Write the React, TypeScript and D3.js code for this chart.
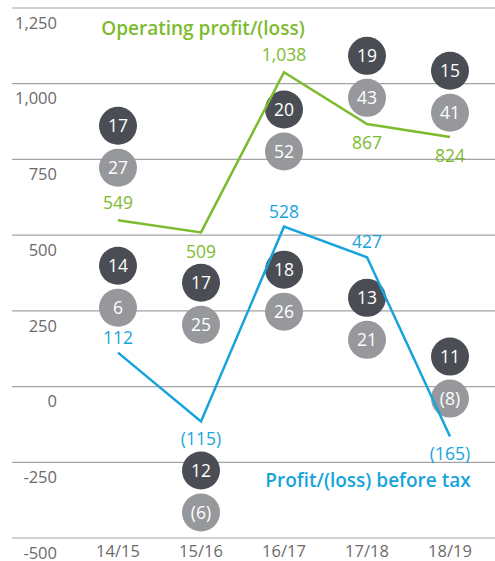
import React from "react";
import * as d3 from "d3";

const categories = ["14/15", "15/16", "16/17", "17/18", "18/19"];
const operatingProfit = [549, 509, 1038, 867, 824];
const profitBeforeTax = [112, -115, 528, 427, -165];
const opLabelAbove = [true, false, true, false, false];
const pbtLabelAbove = [true, false, true, true, false];
// upper bubble pair (dark, light) and lower bubble pair
const upperDark = ["17", "20", "19", "15"];
const upperDarkCat = ["14/15", "16/17", "17/18", "18/19"];
const upperDarkAt = [861, 915, 1092, 1043];
const upperLight = ["27", "52", "43", "41"];
const lowerDarkVals = ["14", "17", "12", "18", "13", "11"];
const lowerDarkCat = ["14/15", "15/16", "15/16", "16/17", "17/18", "18/19"];
const lowerDarkAt = [399, 343, -277, 386, 293, 99];
const lowerLightVals = ["6", "25", "(6)", "26", "21", "(8)"];
const yTicks = [-500, -250, 0, 250, 500, 750, 1000, 1250];

const W = 495;
const H = 561;
const FONT = "'Open Sans', sans-serif";
const GREEN = "#7dbb2e";
const BLUE = "#17a4dc";
const DARK = "#4b4d54";
const LIGHT = "#97989c";
const GRID = "#a3a3a3";
const TEXT = "#6b6b6b";

const num = (v: number) => d3.format(",")(v).replace("\u2212", "-");
const fmt = (v: number) => (v < 0 ? `(${num(-v)})` : num(v));

export default function App() {
  const y = d3.scaleLinear().domain([-500, 1250]).range([538, 8]);
  const x = d3.scalePoint<string>().domain(categories).range([118, 450]);
  const line = d3
    .line<number>()
    .x((_, i) => x(categories[i]) as number)
    .y((d) => y(d));
  const R = 19;
  const gap = 42;

  const bubble = (cx: number, cy: number, fill: string, label: string, key: string) => (
    <g key={key}>
      <circle cx={cx} cy={cy} r={R} fill={fill} />
      <text x={cx} y={cy} dy="0.36em" textAnchor="middle" fill="#fff" fontSize={17.5} fontFamily={FONT}>
        {label}
      </text>
    </g>
  );

  return (
    <svg width={W} height={H} style={{ position: "absolute", left: 0, top: 0 }}>
      <rect width={W} height={H} fill="#fff" />
      {yTicks.map((t) => (
        <g key={t}>
          <line x1={12} x2={W} y1={y(t)} y2={y(t)} stroke={GRID} strokeWidth={1.2} />
          <text x={57} y={y(t) + 15} dy="0.35em" textAnchor="end" fontSize={16.5} fill={TEXT} fontFamily={FONT}>
            {num(t)}
          </text>
        </g>
      ))}
      {categories.map((c) => (
        <text key={c} x={x(c)} y={551} dy="0.35em" textAnchor="middle" fontSize={16.5} fill={TEXT} fontFamily={FONT}>
          {c}
        </text>
      ))}
      {upperDark.map((v, i) => {
        const cx = x(upperDarkCat[i]) as number;
        const cy = y(upperDarkAt[i]);
        return (
          <g key={"u" + i}>
            {bubble(cx, cy, DARK, v, "ud" + i)}
            {bubble(cx, cy + gap, LIGHT, upperLight[i], "ul" + i)}
          </g>
        );
      })}
      {lowerDarkVals.map((v, i) => {
        const cx = x(lowerDarkCat[i]) as number;
        const cy = y(lowerDarkAt[i]);
        return (
          <g key={"l" + i}>
            {bubble(cx, cy, DARK, v, "ld" + i)}
            {bubble(cx, cy + gap, LIGHT, lowerLightVals[i], "ll" + i)}
          </g>
        );
      })}
      <path d={line(operatingProfit) || ""} fill="none" stroke={GREEN} strokeWidth={2.5} strokeLinejoin="miter" />
      <path d={line(profitBeforeTax) || ""} fill="none" stroke={BLUE} strokeWidth={2.5} strokeLinejoin="miter" />
      {operatingProfit.map((v, i) => (
        <text
          key={"op" + i}
          x={x(categories[i])}
          y={y(v) + (opLabelAbove[i] ? -17 : 19)}
          dy="0.35em"
          textAnchor="middle"
          fontSize={17.5}
          fill={GREEN}
          fontFamily={FONT}
        >
          {fmt(v)}
        </text>
      ))}
      {profitBeforeTax.map((v, i) => (
        <text
          key={"pb" + i}
          x={x(categories[i])}
          y={y(v) + (pbtLabelAbove[i] ? -15 : 17)}
          dy="0.35em"
          textAnchor="middle"
          fontSize={17.5}
          fill={BLUE}
          fontFamily={FONT}
        >
          {fmt(v)}
        </text>
      ))}
      <text x={203} y={28} dy="0.35em" textAnchor="middle" fontSize={19} fontWeight={600} fill={GREEN} fontFamily={FONT}>
        Operating profit/(loss)
      </text>
      <text x={368} y={480} dy="0.35em" textAnchor="middle" fontSize={19} fontWeight={600} fill={BLUE} fontFamily={FONT}>
        Profit/(loss) before tax
      </text>
    </svg>
  );
}
